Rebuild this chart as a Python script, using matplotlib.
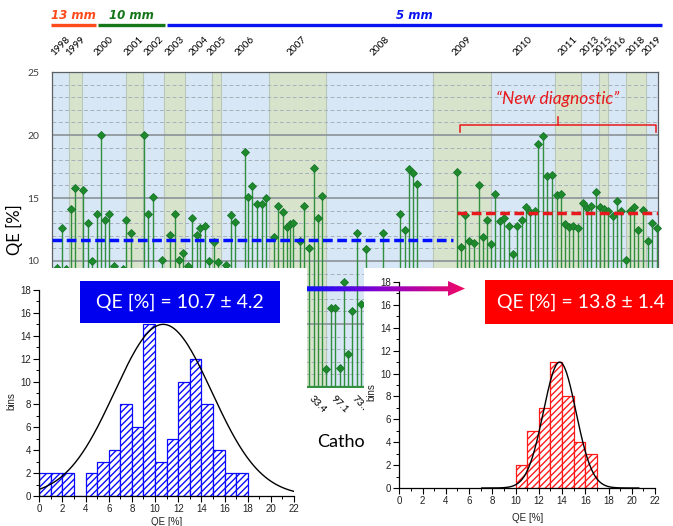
import numpy as np
import matplotlib
matplotlib.use("Agg")
import matplotlib.pyplot as plt
import matplotlib.transforms as mtransforms
from matplotlib.patches import Rectangle, Polygon
from matplotlib.ticker import MultipleLocator
from matplotlib.colors import LinearSegmentedColormap

# ---------------- data ----------------
# cathode sequence position and measured QE [%]
position = [1.07, 2.22, 3.20, 4.27, 5.25, 7.15, 8.15, 9.20, 10.21, 11.19,
            12.10, 13.09, 14.16, 16.15, 16.90, 18.04, 21.01, 21.99, 23.00, 25.05,
            27.02, 28.09, 28.93, 29.92, 30.99, 31.97, 33.04, 33.80, 34.87, 35.85,
            36.93, 37.98, 39.80, 40.81, 41.86, 44.01, 44.83, 45.74, 46.75, 47.89,
            48.87, 50.70, 51.68, 52.82, 53.73, 54.35, 54.97, 56.63, 57.62, 58.69,
            59.76, 60.81, 61.59, 62.64, 63.78, 64.74, 65.70, 66.73, 67.57, 68.58,
            69.58, 70.56, 71.71, 75.52, 79.47, 80.54, 81.46, 82.51, 83.42, 92.42,
            93.40, 94.31, 95.30, 96.37, 97.44, 98.42, 99.41, 100.32, 101.23, 102.24,
            103.22, 104.36, 105.34, 106.26, 107.26, 108.24, 109.16, 110.23, 111.05, 112.20,
            113.11, 114.18, 115.25, 116.31, 117.22, 118.13, 119.05, 120.19, 121.19, 122.11,
            123.16, 124.16, 125.14, 126.06, 127.04, 128.04, 128.96, 129.94, 131.01, 131.99,
            132.97, 133.89, 134.89, 136.03, 136.95, 138.09]
qe = [9.45, 12.6, 9.4, 14.1, 15.8, 15.6, 13.0, 10.0, 13.7, 20.0,
      13.25, 13.7, 9.6, 9.4, 13.25, 12.25, 20.0, 13.7, 15.05, 10.05,
      12.05, 13.7, 10.05, 10.6, 9.6, 13.4, 12.05, 12.6, 12.8, 10.0,
      11.5, 9.9, 9.7, 13.65, 13.1, 18.65, 15.05, 15.95, 14.5, 14.5,
      15.0, 11.9, 14.35, 13.9, 12.7, 12.9, 13.05, 11.6, 14.35, 11.0,
      17.4, 13.4, 15.15, 1.4, 6.25, 6.25, 1.5, 8.3, 2.65, 6.0,
      12.2, 6.6, 10.95, 12.2, 13.7, 12.5, 17.3, 16.95, 16.1, 17.05,
      11.1, 13.65, 11.6, 11.4, 16.0, 11.9, 13.25, 11.35, 15.3, 13.2,
      13.45, 12.8, 10.55, 12.8, 13.25, 14.3, 13.85, 13.95, 19.25, 19.9,
      16.75, 16.8, 15.25, 15.35, 12.95, 12.7, 12.8, 12.6, 14.6, 14.2,
      14.4, 15.45, 14.3, 14.1, 13.95, 13.55, 14.75, 14.0, 10.1, 14.0,
      14.25, 12.5, 14.05, 11.55, 13.0, 12.65]

# cathode names shown on the x axis
cathode_pos = [59.76, 64.74, 69.58]
cathode_names = ["33.4", "97.1", "73.2"]

# production years (start position of each year along the cathode axis)
years = ["1998", "1999", "2000", "2001", "2002", "2003", "2004", "2005", "2006", "2007",
         "2008", "2009", "2010", "2011", "2013", "2015", "2016", "2018", "2019"]
year_start = [0.0, 3.95, 6.92, 16.90, 20.71, 25.65, 30.44, 36.61, 38.59, 49.49,
              62.57, 87.07, 100.18, 114.94, 120.87, 124.84, 126.90, 131.01, 135.72]
x_end = 138.4

# photocathode thickness periods
thickness_labels = ["13 mm", "10 mm", "5 mm"]
thickness_from = [-0.2, 10.6, 26.2]
thickness_to = [10.0, 25.8, 139.2]
thickness_colors = ["#ff4a1c", "#16761a", "#0a14f0"]

# mean QE before / after the new diagnostic
mean_old, old_range = 11.7, (0.0, 91.6)
mean_new, new_range = 13.8, (92.5, 138.4)
bracket_range = (93.2, 137.9)

# histograms (bin width 1 %)
old_bin_left = list(range(0, 18))
old_counts = [2, 2, 2, 0, 2, 3, 4, 8, 6, 15, 3, 5, 10, 12, 8, 4, 2, 2]
new_bin_left = list(range(10, 17))
new_counts = [2, 5, 7, 11, 8, 4, 3]

# gaussian fits: amplitude, mean, sigma, drawn range
old_fit = (15.0, 10.7, 4.2, (0.0, 22.0))
new_fit = (11.0, 13.8, 1.4, (7.1, 20.6))

# ---------------- figure ----------------
W, H = 673, 526
fig = plt.figure(figsize=(W / 100, H / 100), dpi=100)
fig.patch.set_facecolor("white")


def box(x0, y0, x1, y1):
    return [x0 / W, 1 - y1 / H, (x1 - x0) / W, (y1 - y0) / H]


FONT = "Lato"
blue_bg = "#d8e7f5"
green_bg = "#d7e3cb"

# ---------- history panel ----------
ax = fig.add_axes(box(52, 72, 658, 387), zorder=1)
ax.set_xlim(0, x_end)
ax.set_ylim(0, 25)
ax.set_facecolor(blue_bg)
ax.set_axisbelow(True)

edges = year_start + [x_end]
for i in range(len(years)):
    if i % 2 == 1:
        ax.axvspan(edges[i], edges[i + 1], color=green_bg, lw=0, zorder=0.1)
for e in year_start[1:]:
    ax.axvline(e, color="#b7c8b9", lw=0.8, zorder=0.2)

ax.yaxis.set_major_locator(MultipleLocator(5))
ax.yaxis.set_minor_locator(MultipleLocator(1))
ax.grid(axis="y", which="major", color="#8b9298", lw=1.2)
ax.grid(axis="y", which="minor", color="#a6b0b9", lw=0.7, ls=(0, (4, 2.5)))
ax.tick_params(axis="y", which="both", length=0, pad=9, labelsize=7.5,
               labelcolor="#404040")
for lab in ax.get_yticklabels():
    lab.set_fontfamily(FONT)

ax.vlines(position, 0, qe, color="#2f8f3d", lw=1.0, zorder=2)
ax.plot(position, qe, "D", ms=4.1, color="#1f8a2c", mec="#17752a", mew=0.6,
        zorder=3, clip_on=False)
ax.axhline(0, color="#2f8f3d", lw=1.6, zorder=3)

ax.hlines(mean_old, *old_range, colors="#0010ff", lw=2.5,
          linestyles=[(0, (2.8, 1.3))], zorder=4)
ax.hlines(mean_new, *new_range, colors="#e8191d", lw=2.5,
          linestyles=[(0, (2.8, 1.3))], zorder=4)

# "new diagnostic" bracket
bx0, bx1 = bracket_range
bmid = 0.5 * (bx0 + bx1)
red = "#e8191d"
ax.plot([bx0, bx0, bx1, bx1], [20.2, 20.8, 20.8, 20.2], color=red, lw=1.1, zorder=5)
ax.plot([bmid, bmid], [20.8, 21.4], color=red, lw=1.1, zorder=5)
ax.text(bmid, 22.9, "\u201cNew diagnostic\u201d", color=red, style="italic",
        fontsize=12.5, family=FONT, ha="center", va="center", zorder=5)

for s in ["top", "right", "left"]:
    ax.spines[s].set_color("#5a6066")
    ax.spines[s].set_linewidth(0.9)
ax.spines["bottom"].set_color("#2f8f3d")
ax.spines["bottom"].set_linewidth(1.4)

ax.set_xticks(cathode_pos, cathode_names)
ax.tick_params(axis="x", length=0, pad=5, labelsize=7.5)
for lab in ax.get_xticklabels():
    lab.set_rotation(-45)
    lab.set_ha("left")
    lab.set_va("top")
    lab.set_rotation_mode("anchor")
    lab.set_fontfamily(FONT)

ax.set_ylabel("QE [%]", fontsize=12, family=FONT, labelpad=3.5)
ax.set_xlabel("Cathode", fontsize=13, family=FONT)
ax.xaxis.set_label_coords(0.493, -0.148)

# year labels above the panel
yr_tr = mtransforms.blended_transform_factory(ax.transData, fig.transFigure)
for i, y in enumerate(years):
    mid = 0.5 * (edges[i] + edges[i + 1])
    ax.text(mid, 1 - 46 / H, y, transform=yr_tr, rotation=45, ha="center",
            va="center", fontsize=7.2, family=FONT, color="black")

# thickness periods
for lab, a, b, c in zip(thickness_labels, thickness_from, thickness_to, thickness_colors):
    ax.plot([a, b], [1 - 25 / H] * 2, transform=yr_tr, color=c, lw=2.4,
            clip_on=False, solid_capstyle="butt")
    ax.text(0.5 * (a + b), 1 - 15.5 / H, lab, transform=yr_tr, color=c,
            fontsize=8.5, weight="bold", style="italic", family="DejaVu Sans",
            ha="center", va="center")

# ---------- white backing for the histogram insets ----------
ax_mask = fig.add_axes([0, 0, 1, 1], zorder=2)
ax_mask.set_xlim(0, W)
ax_mask.set_ylim(H, 0)
ax_mask.axis("off")
ax_mask.add_patch(Rectangle((0, 268), 307, H - 268, fc="white", ec="none"))
ax_mask.add_patch(Rectangle((364, 268), W - 364, H - 268, fc="white", ec="none"))

# the cathode axis title only shows in the gap between the two insets
gap = Rectangle((307, 268), 57, H - 268, transform=ax_mask.transData,
                fc="none", ec="none")
ax_mask.add_patch(gap)
ax.xaxis.label.set_clip_path(gap)


# ---------- histograms ----------
def hist_panel(rect, lefts, counts, color, fit, xlabel_y, ylabel_y):
    a = fig.add_axes(rect, zorder=3)
    a.set_facecolor("white")
    a.bar(lefts, counts, width=1, align="edge", facecolor="white",
          edgecolor=color, hatch="/////", lw=0.9)
    amp, mu, sig, (lo, hi) = fit
    xs = np.linspace(lo, hi, 400)
    a.plot(xs, amp * np.exp(-(xs - mu) ** 2 / (2 * sig ** 2)), color="black", lw=1.0)
    a.set_xlim(0, 22)
    a.set_ylim(0, 18)
    a.xaxis.set_major_locator(MultipleLocator(2))
    a.xaxis.set_minor_locator(MultipleLocator(1))
    a.yaxis.set_major_locator(MultipleLocator(2))
    a.yaxis.set_minor_locator(MultipleLocator(1))
    a.spines["top"].set_visible(False)
    a.spines["right"].set_visible(False)
    for s in ["left", "bottom"]:
        a.spines[s].set_linewidth(0.9)
    a.tick_params(which="major", direction="out", length=4, width=0.8,
                  labelsize=7, pad=2, labelcolor="#222222")
    a.tick_params(which="minor", direction="out", length=2, width=0.7)
    for lab in a.get_xticklabels() + a.get_yticklabels():
        lab.set_fontfamily("Liberation Sans")
    a.set_xlabel("QE [%]", fontsize=7, family="Liberation Sans", color="#222222")
    a.set_ylabel("bins", fontsize=7, family="Liberation Sans", color="#222222")
    a.xaxis.label.set_va("center")
    a.yaxis.label.set_va("center")
    a.xaxis.set_label_coords(0.5, xlabel_y)
    a.yaxis.set_label_coords(-0.109, ylabel_y)
    return a


hist_panel(box(39.3, 290, 294, 496), old_bin_left, old_counts, "#0a0aff", old_fit,
           -0.126, 0.46)
hist_panel(box(399.3, 282, 655, 488), new_bin_left, new_counts, "#ff1a1a", new_fit,
           -0.146, 0.466)

# ---------- labels and arrow ----------
ov = fig.add_axes([0, 0, 1, 1], zorder=4)
ov.axis("off")

ov.add_patch(Rectangle((80, 281), 200, 42, fc="#0000ee", ec="none"))
ov.text(180, 302, f"QE [%] = {old_fit[1]:.1f} \u00b1 {old_fit[2]:.1f}", color="white",
        fontsize=14, family=FONT, ha="center", va="center")
ov.add_patch(Rectangle((485, 280), W - 485, 44, fc="#ff0000", ec="none"))
ov.text(581, 302, f"QE [%] = {new_fit[1]:.1f} \u00b1 {new_fit[2]:.1f}", color="white",
        fontsize=14, family=FONT, ha="center", va="center")

arrow = Polygon([(307, 286.3), (448, 286.3), (448, 281), (465, 288.6), (448, 296),
                 (448, 291.3), (307, 291.3)], closed=True, fc="none", ec="none")
ov.add_patch(arrow)
grad_cmap = LinearSegmentedColormap.from_list("arrow", ["#1010ff", "#9000c8", "#f00a64"])
img = ov.imshow(np.linspace(0, 1, 256).reshape(1, -1), cmap=grad_cmap,
                extent=(307, 465, 296, 281), aspect="auto", interpolation="bilinear")
img.set_clip_path(arrow)
ov.set_xlim(0, W)
ov.set_ylim(H, 0)

fig.savefig("out.png", dpi=100)
